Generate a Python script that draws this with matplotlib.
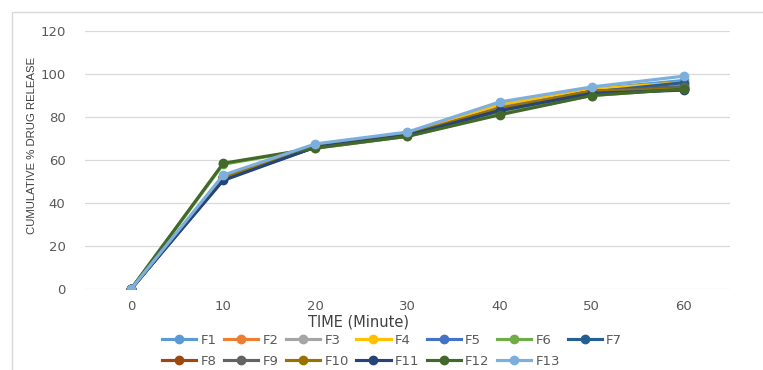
import matplotlib
matplotlib.use("Agg")
import matplotlib.pyplot as plt
from matplotlib.patches import Rectangle

time = [0, 10, 20, 30, 40, 50, 60]
labels = ["F1", "F2", "F3", "F4", "F5", "F6", "F7", "F8", "F9", "F10", "F11", "F12", "F13"]
F1 = [0, 52, 67, 72, 85, 93, 97]
F2 = [0, 52, 66.5, 72, 84, 92, 94]
F3 = [0, 52, 66.5, 72, 85, 92, 95]
F4 = [0, 52, 67, 72, 86, 93, 96]
F5 = [0, 51.5, 66, 71.5, 84, 92, 94]
F6 = [0, 58, 65.5, 71, 81.5, 90, 93]
F7 = [0, 51, 66, 71.5, 83, 91.5, 96]
F8 = [0, 52, 66, 71.5, 83, 92, 93]
F9 = [0, 52, 66, 71.5, 83, 92, 94]
F10 = [0, 52, 66.5, 72, 84, 92, 93]
F11 = [0, 50.5, 66, 71.5, 83, 91, 92.5]
F12 = [0, 58.5, 65.5, 71, 81, 90, 93]
F13 = [0, 53, 67.5, 73, 87, 94, 99]
series = [F1, F2, F3, F4, F5, F6, F7, F8, F9, F10, F11, F12, F13]
colors = ["#5B9BD5", "#ED7D31", "#A5A5A5", "#FFC000", "#4472C4", "#70AD47", "#255E91",
          "#9E480E", "#636363", "#997300", "#264478", "#43682B", "#7CAFDD"]
yticks = [0, 20, 40, 60, 80, 100, 120]

W, H = 763, 370
fig = plt.figure(figsize=(W / 100, H / 100), dpi=100)
fig.patch.set_facecolor("white")

# outer frame
fig.patches.append(Rectangle((12 / W, -0.1), 1.2, 1 - 12 / H + 0.1, transform=fig.transFigure,
                             fill=False, edgecolor="#D9D9D9", linewidth=1.0))

ax = fig.add_axes([85 / W, 1 - 289 / H, (730 - 85) / W, (289 - 31) / H])
handles = []
for lab, vals, c in zip(labels, series, colors):
    h, = ax.plot(time, vals, color=c, linewidth=2.25, marker="o", markersize=6,
                 label=lab, solid_joinstyle="round")
    handles.append(h)

ax.set_xlim(-5, 65)
ax.set_ylim(0, 120)
ax.set_yticks(yticks)
ax.set_xticks(time)
ax.grid(axis="y", color="#D9D9D9", linewidth=0.9)
ax.set_axisbelow(True)
for s in ax.spines.values():
    s.set_visible(False)
ax.tick_params(axis="both", length=0, labelsize=9.5, labelcolor="#595959")
ax.tick_params(axis="y", pad=14)
ax.tick_params(axis="x", pad=8)

fig.text(32 / W, 1 - 145 / H, "CUMULATIVE % DRUG RELEASE", rotation=90, ha="center", va="center",
         fontsize=8.2, color="#404040", family=["Liberation Sans", "DejaVu Sans"])
fig.text(358 / W, 1 - 322 / H, "TIME (Minute)", ha="center", va="center",
         fontsize=10.5, color="#404040")

order = [0, 7, 1, 8, 2, 9, 3, 10, 4, 11, 5, 12, 6]
leg = fig.legend([handles[i] for i in order], [labels[i] for i in order], ncol=7,
                 loc="center", bbox_to_anchor=(392 / W, 1 - 351 / H), frameon=False,
                 fontsize=9.5, handlelength=2.6, handletextpad=0.3, columnspacing=0.58,
                 labelspacing=0.6, borderaxespad=0)
for t in leg.get_texts():
    t.set_color("#595959")

fig.savefig("out.png", dpi=100, facecolor="white")
